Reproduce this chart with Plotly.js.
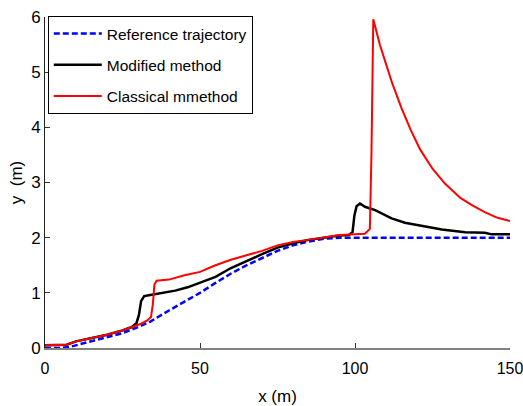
<!DOCTYPE html>
<html>
<head>
<meta charset="utf-8">
<script src="https://cdn.plot.ly/plotly-3.0.1.min.js"></script>
<style>html,body{margin:0;padding:0;background:#fff;}#chart{width:523px;height:406px;}</style>
</head>
<body>
<div id="chart"></div>
<script>
// Reference trajectory
const refX = [0,5,8,10,15,20,25,30,34,40,45,50,55,60,65,70,75,80,85,90,95,100,110,120,130,140,150];
const refY = [0,0,0.02,0.05,0.12,0.19,0.27,0.38,0.48,0.68,0.84,1.0,1.18,1.35,1.5,1.63,1.76,1.86,1.93,1.98,2.0,2.0,2.0,2.0,2.0,2.0,2.0];

// Modified method
const modX = [0,3,7,10,15,20,25,28,29.5,30.3,31,32,34,38,42,46,50,55,60,65,70,75,80,85,90,95,98,99.2,99.8,100.5,101.6,103.2,106.5,111.8,116.1,121.5,128,135.5,141.9,144.1,150];
const modY = [0.05,0.05,0.06,0.12,0.18,0.24,0.32,0.38,0.45,0.6,0.85,0.94,0.96,1.0,1.04,1.1,1.18,1.29,1.45,1.58,1.7,1.82,1.9,1.96,2.0,2.04,2.05,2.1,2.4,2.57,2.62,2.56,2.5,2.35,2.27,2.21,2.15,2.1,2.09,2.06,2.06];

// Classical mmethod
const claX = [0,3,7,10,15,20,25,28,31,33,34.2,34.8,35.3,36,40,45,50,55,60,65,70,75,80,85,90,95,100,103.2,104.8,105.3,105.9,108,110,112,115,118,121,125,129,134,138,142,146,150];
const claY = [0.05,0.05,0.06,0.12,0.18,0.24,0.32,0.38,0.44,0.5,0.56,0.8,1.15,1.22,1.24,1.32,1.38,1.5,1.6,1.68,1.76,1.86,1.92,1.96,2.01,2.05,2.06,2.07,2.16,3.5,5.96,5.5,5.15,4.8,4.35,3.95,3.6,3.25,2.98,2.72,2.58,2.46,2.36,2.3];

const names = ['Reference trajectory','Modified method','Classical mmethod'];
const xTicks = [0, 50, 100, 150];
const yTicks = [0, 1, 2, 3, 4, 5, 6];

const FONT = '"Liberation Sans", Arial, sans-serif';

const traces = [
  {x: refX, y: refY, name: names[0], mode: 'lines', legendgroup: 'a',
   line: {color: '#0000ff', width: 2.5, dash: '6px,3px'}},
  {x: modX, y: modY, name: names[1], mode: 'lines', legendgroup: 'b',
   line: {color: '#000000', width: 2.5}},
  {x: claX, y: claY, name: names[2], mode: 'lines', legendgroup: 'c',
   line: {color: '#ff0000', width: 2}}
];

const layout = {
  width: 523, height: 406,
  margin: {l: 45, r: 13, t: 17, b: 58},
  paper_bgcolor: '#fff', plot_bgcolor: '#fff',
  font: {family: FONT, size: 17, color: '#000'},
  showlegend: true,
  legend: {
    x: 0.006, y: 1.003, xanchor: 'left', yanchor: 'top',
    bgcolor: '#fff', bordercolor: '#000', borderwidth: 1,
    font: {family: FONT, size: 15.5, color: '#000'},
    tracegroupgap: 8, traceorder: 'grouped', itemwidth: 48
  },
  xaxis: {
    range: [0, 150], tickvals: xTicks,
    ticks: 'inside', ticklen: 5, tickcolor: '#333', tickwidth: 1,
    ticklabeloverflow: 'allow', ticklabelstandoff: 5,
    tickfont: {family: FONT, size: 16},
    showline: true, linecolor: '#808080', linewidth: 2, mirror: false,
    showgrid: false, zeroline: false,
    title: {text: 'x (m)', font: {family: FONT, size: 17}, standoff: 14}
  },
  yaxis: {
    range: [0, 6], tickvals: yTicks,
    ticks: 'inside', ticklen: 5, tickcolor: '#333', tickwidth: 1,
    tickfont: {family: FONT, size: 17},
    showline: true, linecolor: '#222', linewidth: 1, mirror: false,
    showgrid: false, zeroline: false,
    title: {text: 'y\u00a0\u00a0(m)', font: {family: FONT, size: 17}, standoff: 4}
  }
};

Plotly.newPlot('chart', traces, layout, {displayModeBar: false, staticPlot: true});
</script>
</body>
</html>
